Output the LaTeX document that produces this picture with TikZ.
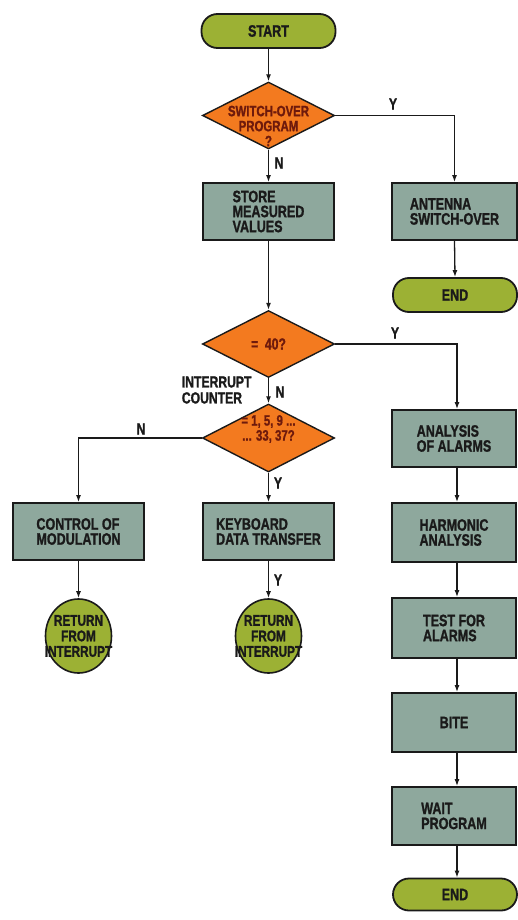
\documentclass[tikz,border=0pt]{standalone}
\usepackage{fontspec}
\newfontfamily\chartfont{Liberation Sans}[FakeStretch=0.76, BoldFeatures={FakeBold=1.2}]
\usetikzlibrary{shapes.geometric,arrows.meta}

\definecolor{boxfill}{HTML}{8EA89D}
\definecolor{diafill}{HTML}{F37A1F}
\definecolor{termfill}{HTML}{9CB134}
\definecolor{diatext}{HTML}{6E1A0C}
\definecolor{ink}{HTML}{1A1A1A}

\begin{document}
\begin{tikzpicture}[x=1pt,y=-1pt,
  every node/.style={font=\chartfont\bfseries\fontsize{16.5}{15}\selectfont, text=ink},
  procbox/.style={draw=ink, line width=1.8pt, fill=boxfill, minimum width=131pt,
    minimum height=57pt, align=left, inner sep=0pt},
  rbox/.style={procbox, minimum width=124pt},
  terminal/.style={draw=ink, line width=1.8pt, fill=termfill, rounded corners=16pt,
    minimum height=34pt, inner sep=0pt},
  decision/.style={draw=ink, line width=1.4pt, fill=diafill, shape=diamond,
    minimum width=132pt, minimum height=67pt, inner sep=0pt},
  dtext/.style={align=center, text=diatext,
    font=\chartfont\bfseries\fontsize{15}{15}\selectfont},
  retcirc/.style={draw=ink, line width=1.6pt, fill=termfill, shape=ellipse,
    minimum width=66pt, minimum height=74pt, inner sep=0pt},
  rtext/.style={align=center, font=\chartfont\bfseries\fontsize{15.5}{15.5}\selectfont},
  flag/.style={font=\chartfont\bfseries\fontsize{16}{16}\selectfont},
  conn/.style={draw=ink, line width=1.3pt, -{Latex[length=7pt,width=5pt]}}
]
\useasboundingbox[fill=white] (0,0) rectangle (518,920);

% main column
\node[terminal, minimum width=134pt] (start) at (268.5,31) {START};
\node[decision] (d1) at (268.5,115.5) {};
\node[dtext] (d1t) at (268.5,126) {SWITCH-OVER\\PROGRAM\\?};
\node[procbox] (store) at (268.5,211.5) {STORE\\MEASURED\\VALUES};
\node[decision] (d2) at (268.5,344) {};
\node[dtext, font=\chartfont\bfseries\fontsize{16}{15}\selectfont] (d2t) at (268.5,344) {= \ 40?};
\node[decision, minimum height=68pt] (d3) at (268.5,438) {};
\node[dtext] (d3t) at (268.5,429) {= 1, 5, 9 ...\\... 33, 37?};
\node[procbox] (keyb) at (268.5,531.5) {KEYBOARD\\DATA TRANSFER};
\node[retcirc] (r2) at (268.5,636) {};
\node[rtext] (r2t) at (268.5,636) {RETURN\\FROM\\INTERRUPT};

% left column
\node[procbox] (ctrl) at (78.5,531.5) {CONTROL OF\\MODULATION};
\node[retcirc] (r1) at (78.5,636) {};
\node[rtext] (r1t) at (78.5,636) {RETURN\\FROM\\INTERRUPT};

% right column
\node[rbox, minimum width=125pt] (ant) at (454.5,211.5) {ANTENNA\\SWITCH-OVER};
\node[terminal, minimum width=124pt] (end1) at (455,295) {END};
\node[rbox] (alarm) at (454,438.5) {ANALYSIS\\OF ALARMS};
\node[rbox, minimum height=59pt] (harm) at (454,532.5) {HARMONIC\\ANALYSIS};
\node[rbox, minimum height=60pt] (test) at (454,628) {TEST FOR\\ALARMS};
\node[rbox, minimum height=59pt] (bite) at (454,722.5) {BITE};
\node[rbox, minimum height=58pt] (wait) at (454,816) {WAIT\\PROGRAM};
\node[terminal, minimum width=124pt, minimum height=32pt] (end2) at (455,894.5) {END};

% annotations
\node[flag] (y1) at (393,104) {Y};
\node[flag] (n1) at (279,163) {N};
\node[flag] (y2) at (395,333) {Y};
\node[flag] (n2) at (280,392) {N};
\node[align=left, anchor=east, font=\chartfont\bfseries\fontsize{16}{16}\selectfont]
  (cnt) at (255,390) {INTERRUPT\\COUNTER};
\node[flag] (n3) at (141,429) {N};
\node[flag] (y3) at (278,483) {Y};
\node[flag] (y4) at (278,580) {Y};

% connectors
\draw[conn] (start.south) -- (d1.north);
\draw[conn] (d1.south) -- (store.north);
\draw[conn] (d1.east) -| (ant.north);
\draw[conn] (ant.south) -- (end1.north);
\draw[conn] (store.south) -- (d2.north);
\draw[conn] (d2.east) -| ([xshift=3pt]alarm.north);
\draw[conn] (d2.south) -- (d3.north);
\draw[conn] (d3.west) -| (ctrl.north);
\draw[conn] (d3.south) -- (keyb.north);
\draw[conn] (ctrl.south) -- (r1.north);
\draw[conn] (keyb.south) -- (r2.north);
\draw[conn] ([xshift=3pt]alarm.south) -- ([xshift=3pt]harm.north);
\draw[conn] ([xshift=3pt]harm.south) -- ([xshift=3pt]test.north);
\draw[conn] ([xshift=3pt]test.south) -- ([xshift=3pt]bite.north);
\draw[conn] ([xshift=3pt]bite.south) -- ([xshift=3pt]wait.north);
\draw[conn] ([xshift=3pt]wait.south) -- ([xshift=2pt]end2.north);
\end{tikzpicture}
\end{document}
